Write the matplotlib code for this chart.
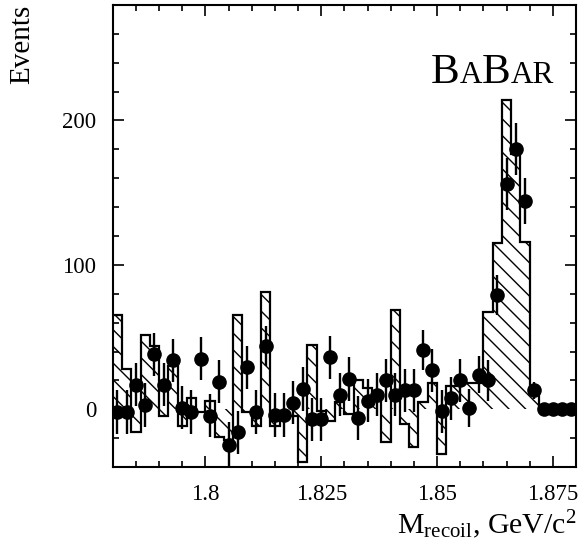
import matplotlib
matplotlib.use('Agg')
import matplotlib.pyplot as plt
import numpy as np
from matplotlib.ticker import MultipleLocator, FixedLocator

plt.rcParams['font.family'] = ['Liberation Serif', 'DejaVu Serif']
plt.rcParams['mathtext.default'] = 'regular'
plt.rcParams['hatch.linewidth'] = 1.0

# ---- data ----
x_low = 1.78
x_high = 1.88
n_bins = 50

hist_values = [65, 28, -16, 51.5, 44, -5, 30, -11.5, 8, -2,
               5.5, -19, -21, 65, -2, -11.5, 81, -11.5, -5, -5,
               -36.5, 44.5, -1, -8, 5, -3, 20, 15, 6, -23,
               69, -10.5, -26, 5, 18.5, -31, 16, 18.5, 18.5, 18.5,
               67.5, 115, 214, 177, 116, 10.5, 0, 0, 0, 0]

data_values = [-2, -2, 17, 3, 38, 17, 34, 1, -2, 35,
               -4.5, 19, -25, -16, 29, -2, 44, -4, -4, 4.5,
               14, -7, -7, 36, 10, 21, -6, 6, 10, 20,
               10, 13, 13, 41, 27, -1.5, 7.5, 20, 1, 24,
               20, 79, 156, 180, 144, 13, 0, 0, 0, 0]

data_errors = [15, 15, 15, 15, 15, 15, 15, 15, 15, 15,
               15, 15, 16, 15, 15, 15, 14, 15, 15, 15,
               15, 15, 15, 15, 15, 15, 15, 15, 15, 15,
               15, 15, 15, 14, 15, 15, 15, 15, 13, 13,
               14, 14, 18, 18, 16, 6, 0, 0, 0, 0]

x_tick_values = [1.8, 1.825, 1.85, 1.875]
x_tick_labels = ['1.8', '1.825', '1.85', '1.875']
y_tick_values = [0, 100, 200]
y_tick_labels = ['0', '100', '200']

edges = np.linspace(x_low, x_high, n_bins + 1)
centers = 0.5 * (edges[:-1] + edges[1:])
widths = np.diff(edges)

fig = plt.figure(figsize=(5.79, 5.48), dpi=100)
ax = fig.add_axes([0.1947, 0.1478, 0.8001, 0.8431])

# hatched histogram
ax.bar(centers, hist_values, width=widths, bottom=0, align='center',
       fill=False, hatch='\\\\', linewidth=0, edgecolor='black', zorder=1)
ax.stairs(hist_values, edges, baseline=None, color='black', linewidth=1.6, zorder=2)

# data points
ax.errorbar(centers, data_values, yerr=data_errors, fmt='o', color='black',
            markersize=9.5, elinewidth=1.7, capsize=0, zorder=3)

ax.set_xlim(x_low, x_high)
ax.set_ylim(-40, 280)
ax.xaxis.set_major_locator(FixedLocator(x_tick_values))
ax.set_xticklabels(x_tick_labels)
ax.xaxis.set_minor_locator(MultipleLocator(0.005))
ax.yaxis.set_major_locator(FixedLocator(y_tick_values))
ax.set_yticklabels(y_tick_labels)
ax.yaxis.set_minor_locator(MultipleLocator(20))

ax.tick_params(which='both', direction='in', top=True, right=True, width=1.2)
ax.tick_params(which='major', length=8, labelsize=16.5)
ax.tick_params(axis='x', which='major', pad=12)
ax.tick_params(axis='y', which='major', pad=12)
ax.tick_params(which='minor', length=4.5)
for sp in ax.spines.values():
    sp.set_linewidth(1.5)

fig.text(0.038, 0.992, 'Events', rotation=90, ha='center', va='top', fontsize=21)
fig.text(0.995, 0.026, r'M$_{recoil}$, GeV/c$^{2}$', ha='right', va='baseline', fontsize=21.5)

# BaBar logo
y0 = 0.831
prev = ax.text(0.687, y0, 'B', transform=ax.transAxes, fontsize=31,
               va='baseline', ha='left')
for s, fs in [('A', 22.5), ('B', 31), ('AR', 22.5)]:
    prev = ax.annotate(s, xy=(1.0, y0), xycoords=(prev, 'axes fraction'),
                       fontsize=fs, va='baseline', ha='left')

fig.savefig('out.png', dpi=100)
